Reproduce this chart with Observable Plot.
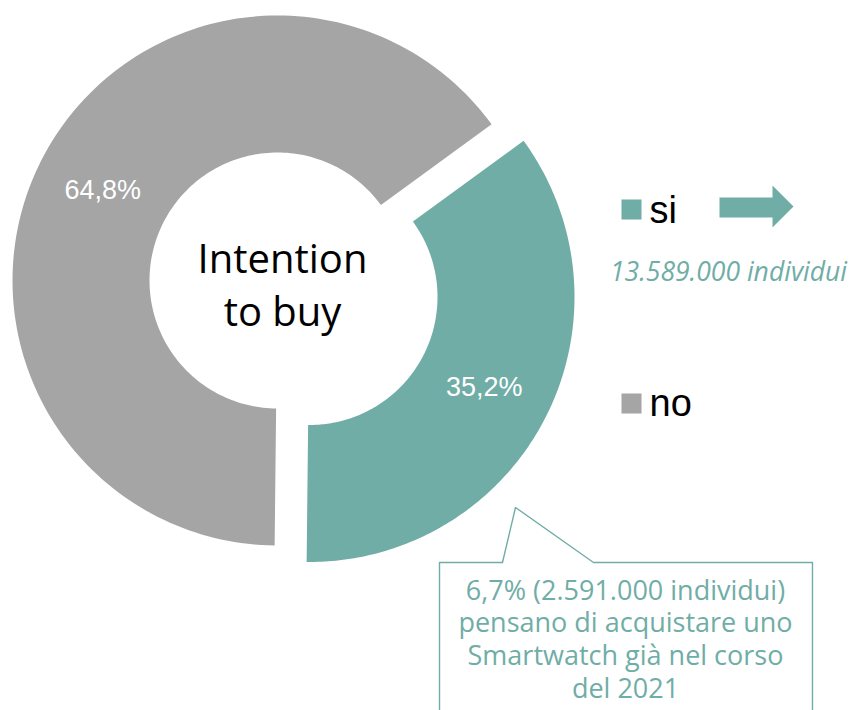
<!DOCTYPE html>
<html>
<head>
<meta charset="utf-8">
<script src="https://cdn.jsdelivr.net/npm/d3@7"></script>
<script src="https://cdn.jsdelivr.net/npm/@observablehq/plot@0.6"></script>
<style>
  html, body { margin: 0; padding: 0; background: #ffffff; }
  #chart svg { display: block; }
</style>
</head>
<body>
<div id="chart"></div>
<script>
// ---------- data ----------
const categories = ["si", "no"];
const values = [35.2, 64.8];
const valueLabels = ["35,2%", "64,8%"];
const centerTitle = "Intention\nto buy";
const siNote = "13.589.000 individui";
const calloutText = "6,7% (2.591.000 individui)\npensano di acquistare uno\nSmartwatch già nel corso\ndel 2021";

// ---------- styling / layout ----------
const TEAL = "#70ADA6";
const GRAY = "#A5A5A5";
const sliceColors = [TEAL, GRAY];
const W = 855, H = 710;
const CX = 277, CY = 280, R_OUT = 265, R_IN = 128, EXPLODE = 36;
const START_DEG = 53.9;
const legendY = {si: 209, no: 403};
const legendBaseline = {si: 222, no: 415};
const LEG_X = 631;
const SANS = "'Liberation Sans', Arial, sans-serif";
const SEGOE = "'Open Sans', 'Noto Sans', sans-serif";

// ---------- geometry from data ----------
const pie = d3.pie().sort(null).value(d => d.value)
  .startAngle(START_DEG * Math.PI / 180)
  .endAngle(START_DEG * Math.PI / 180 + 2 * Math.PI);
const arcs = pie(categories.map((c, i) => ({key: c, value: values[i], label: valueLabels[i]})));

function sliceCenter(a) {
  const mid = (a.startAngle + a.endAngle) / 2;
  const off = a.data.key === "si" ? EXPLODE : 0;
  return [CX + off * Math.sin(mid), CY - off * Math.cos(mid), mid];
}

const ringPts = arcs.flatMap(a => {
  const [ox, oy] = sliceCenter(a);
  const n = 160, pts = [];
  for (let i = 0; i <= n; i++) {
    const t = a.startAngle + (a.endAngle - a.startAngle) * i / n;
    pts.push({key: a.data.key, x: ox + R_OUT * Math.sin(t), y: oy - R_OUT * Math.cos(t)});
  }
  for (let i = n; i >= 0; i--) {
    const t = a.startAngle + (a.endAngle - a.startAngle) * i / n;
    pts.push({key: a.data.key, x: ox + R_IN * Math.sin(t), y: oy - R_IN * Math.cos(t)});
  }
  return pts;
});

const labelPts = arcs.map(a => {
  const [ox, oy, mid] = sliceCenter(a);
  const rr = (R_OUT + R_IN) / 2;
  return {text: a.data.label, x: ox + rr * Math.sin(mid), y: oy - rr * Math.cos(mid)};
});

// decorations (layout)
const arrowShape = [
  {x: 719, y: 197}, {x: 772, y: 197}, {x: 772, y: 185}, {x: 793, y: 206},
  {x: 772, y: 227}, {x: 772, y: 217}, {x: 719, y: 217}
];
const calloutShape = [
  {x: 439, y: 720}, {x: 439, y: 562}, {x: 502, y: 562}, {x: 515, y: 507},
  {x: 593, y: 562}, {x: 812, y: 562}, {x: 812, y: 720}
];

const chart = Plot.plot({
  width: W,
  height: H,
  margin: 0,
  x: {domain: [0, W], range: [0, W], axis: null},
  y: {domain: [0, H], range: [0, H], axis: null},
  color: {domain: categories, range: sliceColors},
  style: {background: "#ffffff", overflow: "visible"},
  marks: [
    ...categories.map(c => Plot.line(ringPts.filter(p => p.key === c), {
      x: "x", y: "y", fill: sliceColors[categories.indexOf(c)], stroke: "none", curve: "linear"
    })),
    Plot.text(labelPts, {x: "x", y: "y", text: "text", fill: "#ffffff",
      fontSize: 27, fontFamily: SANS}),
    Plot.text([centerTitle], {x: () => 282, y: () => 325, text: d => d,
      fontSize: 40, fontFamily: SEGOE, fill: "#000000", lineAnchor: "bottom", lineHeight: 1.325}),
    // legend
    Plot.dot(categories, {x: () => LEG_X, y: d => legendY[d], symbol: "square", r: 11.3,
      fill: d => d, stroke: "none"}),
    Plot.text(categories, {x: () => 649, y: d => legendBaseline[d], text: d => d,
      textAnchor: "start", lineAnchor: "bottom", fontSize: 38, fontFamily: SANS, fill: "#000000"}),
    Plot.line(arrowShape, {x: "x", y: "y", fill: TEAL, stroke: "none"}),
    Plot.text([siNote], {x: () => 728, y: () => 280, text: d => d, lineAnchor: "bottom",
      fontSize: 26.5, fontStyle: "italic", fontFamily: SEGOE, fill: TEAL}),
    // callout
    Plot.line(calloutShape, {x: "x", y: "y", fill: "#ffffff", stroke: TEAL, strokeWidth: 1.4}),
    Plot.text([calloutText], {x: () => 625, y: () => 697, text: d => d, lineAnchor: "bottom",
      lineHeight: 1.21, fontSize: 27, fontFamily: SEGOE, fill: TEAL})
  ]
});
document.getElementById("chart").appendChild(chart);
</script>
</body>
</html>
